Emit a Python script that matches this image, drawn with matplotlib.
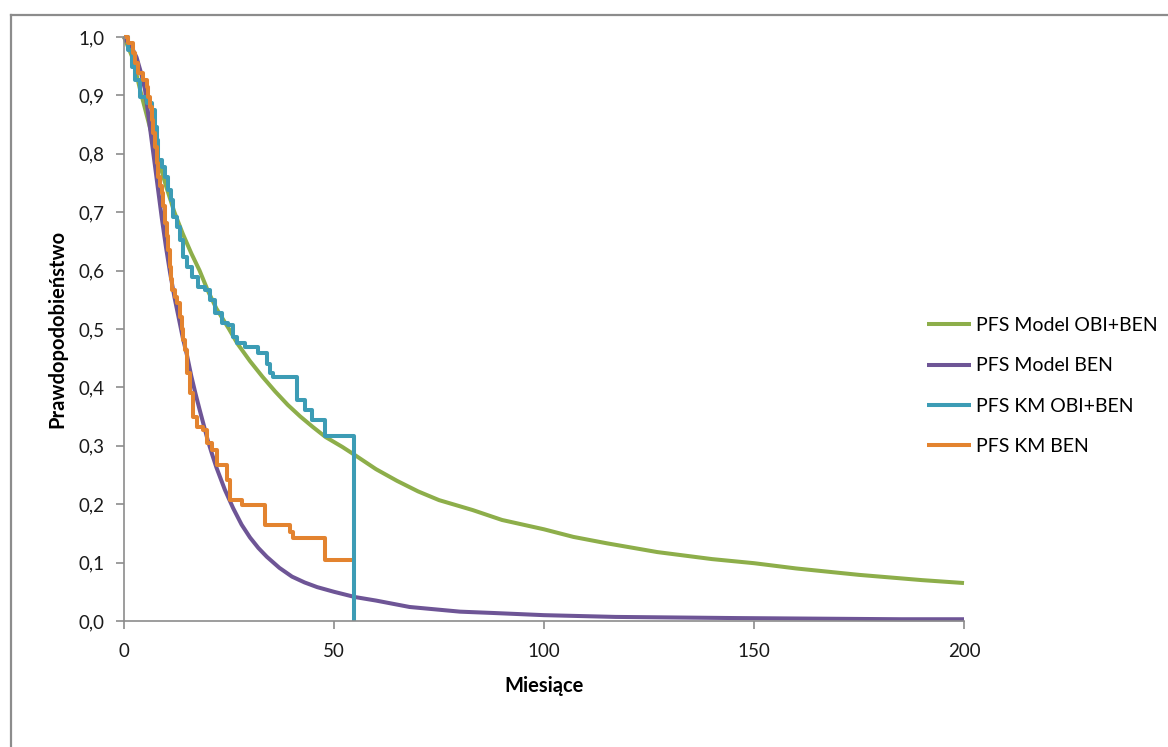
import matplotlib.pyplot as plt
from matplotlib.lines import Line2D

plt.rcParams["font.family"] = ["Lato", "DejaVu Sans"]

# PFS model curves (months, survival probability)
model_obi_months = [0, 2, 4, 6, 8, 10, 12, 14, 16, 18, 20, 22, 25, 27, 30, 33, 36,
                    39, 42, 45, 48, 52, 55, 60, 65, 70, 75, 83, 90, 100, 107, 115,
                    127, 140, 150, 160, 175, 190, 200]
model_obi_surv = [1.0, 0.965, 0.905, 0.85, 0.795, 0.745, 0.70, 0.663, 0.63, 0.60,
                  0.565, 0.535, 0.50, 0.475, 0.445, 0.418, 0.393, 0.37, 0.35, 0.332,
                  0.315, 0.298, 0.284, 0.26, 0.24, 0.222, 0.207, 0.19, 0.173, 0.157,
                  0.144, 0.133, 0.118, 0.106, 0.099, 0.090, 0.079, 0.070, 0.065]

model_ben_months = [0, 2, 3, 4, 5, 6, 7, 8, 9, 10, 11, 12, 13, 14, 15, 16, 17, 18,
                    19, 20, 21, 22, 24, 26, 28, 30, 32, 34, 37, 40, 43, 46, 50, 55,
                    60, 68, 80, 88, 100, 117, 146, 185, 200]
model_ben_surv = [1.0, 0.98, 0.965, 0.94, 0.91, 0.855, 0.80, 0.745, 0.69, 0.64,
                  0.595, 0.555, 0.52, 0.485, 0.455, 0.42, 0.39, 0.362, 0.335, 0.308,
                  0.285, 0.263, 0.225, 0.193, 0.165, 0.143, 0.125, 0.110, 0.091,
                  0.076, 0.066, 0.058, 0.050, 0.041, 0.035, 0.024, 0.016, 0.0137,
                  0.010, 0.007, 0.005, 0.003, 0.003]

# Kaplan-Meier step data
km_obi_months = [0, 0.95, 1.9, 2.6, 3.8, 5.5, 6.7, 7.4, 7.9, 8.1, 9.0, 9.8, 10.5,
                 11.2, 11.7, 12.6, 13.3, 14.0, 15.0, 16.2, 17.6, 19.3, 20.5, 21.7,
                 23.3, 24.8, 26.0, 26.9, 28.8, 31.9, 34.0, 34.8, 35.5, 41.2, 43.1,
                 44.8, 47.9, 54.8]
km_obi_surv = [1.0, 0.978, 0.949, 0.926, 0.897, 0.887, 0.875, 0.846, 0.824, 0.789,
               0.777, 0.760, 0.738, 0.721, 0.692, 0.675, 0.652, 0.623, 0.606, 0.589,
               0.572, 0.567, 0.550, 0.527, 0.510, 0.507, 0.486, 0.476, 0.469, 0.459,
               0.44, 0.425, 0.418, 0.378, 0.361, 0.344, 0.317, 0.0]

km_ben_months = [0, 1.0, 2.1, 2.6, 3.3, 4.5, 5.5, 5.7, 6.2, 6.7, 6.9, 7.4, 7.9, 8.1,
                 8.6, 9.0, 9.4, 9.8, 10.2, 10.5, 11.0, 11.2, 11.4, 12.1, 12.6, 13.3,
                 13.8, 14.0, 14.5, 15.0, 15.7, 16.4, 17.4, 18.8, 19.8, 21.0, 22.1,
                 24.5, 25.2, 28.1, 33.6, 39.5, 40.2, 47.9, 54.3]
km_ben_surv = [1.0, 0.99, 0.973, 0.955, 0.938, 0.926, 0.914, 0.897, 0.880, 0.858,
               0.836, 0.812, 0.784, 0.760, 0.745, 0.733, 0.71, 0.682, 0.66, 0.635,
               0.606, 0.585, 0.567, 0.555, 0.545, 0.521, 0.50, 0.481, 0.464, 0.425,
               0.390, 0.349, 0.332, 0.327, 0.305, 0.293, 0.267, 0.241, 0.207, 0.199,
               0.164, 0.152, 0.142, 0.104, 0.104]

y_ticks = [0.0, 0.1, 0.2, 0.3, 0.4, 0.5, 0.6, 0.7, 0.8, 0.9, 1.0]
x_ticks = [0, 50, 100, 150, 200]

labels = ["PFS Model OBI+BEN", "PFS Model BEN", "PFS KM OBI+BEN", "PFS KM BEN"]
colors = ["#8DAE4A", "#6E5596", "#3C9CB5", "#E3832F"]

fig = plt.figure(figsize=(11.68, 7.47), dpi=100)
ax = fig.add_axes([124 / 1168, 1 - 621 / 747, 840 / 1168, 584 / 747])

lw = 2.9
ax.plot(model_obi_months, model_obi_surv, color=colors[0], lw=lw, label=labels[0],
        clip_on=False, solid_capstyle="butt")
ax.plot(model_ben_months, model_ben_surv, color=colors[1], lw=lw, label=labels[1],
        clip_on=False, solid_capstyle="butt")
ax.plot(km_obi_months, km_obi_surv, color=colors[2], lw=lw, label=labels[2],
        drawstyle="steps-post", clip_on=False, solid_capstyle="butt")
ax.plot(km_ben_months, km_ben_surv, color=colors[3], lw=lw, label=labels[3],
        drawstyle="steps-post", clip_on=False, solid_capstyle="butt")

ax.set_xlim(0, 200)
ax.set_ylim(0, 1)
ax.set_xticks(x_ticks)
ax.set_xticklabels([str(t) for t in x_ticks])
ax.set_yticks(y_ticks)
ax.set_yticklabels([f"{t:.1f}".replace(".", ",") for t in y_ticks])

for s in ["top", "right"]:
    ax.spines[s].set_visible(False)
for s in ["left", "bottom"]:
    ax.spines[s].set_color("#8C8C8C")
    ax.spines[s].set_linewidth(1.2)
ax.tick_params(axis="both", colors="#8C8C8C", labelcolor="#1A1A1A", labelsize=13.5,
               length=6, width=1.2, direction="out")
ax.tick_params(axis="x", pad=10)
ax.tick_params(axis="y", pad=8)

ax.set_xlabel("Miesiące", fontsize=14.5, fontweight="bold")
ax.set_ylabel("Prawdopodobieństwo", fontsize=14.5, fontweight="bold")
ax.xaxis.set_label_coords(0.5, -(676 - 621) / 584)
ax.yaxis.set_label_coords((67 - 124) / 840, 0.5)

fig.legend(loc="center left", bbox_to_anchor=(909 / 1168, 1 - 386 / 747),
           frameon=False, fontsize=14, handlelength=2.3, handletextpad=0.25,
           labelspacing=1.2)

# outer frame like the exported chart area
fig.add_artist(Line2D([11 / 1168, 1.0], [1 - 15 / 747, 1 - 15 / 747],
                      color="#8C8C8C", lw=1.6, transform=fig.transFigure))
fig.add_artist(Line2D([11 / 1168, 11 / 1168], [0.0, 1 - 15 / 747],
                      color="#8C8C8C", lw=1.6, transform=fig.transFigure))

fig.savefig("out.png", dpi=100)
